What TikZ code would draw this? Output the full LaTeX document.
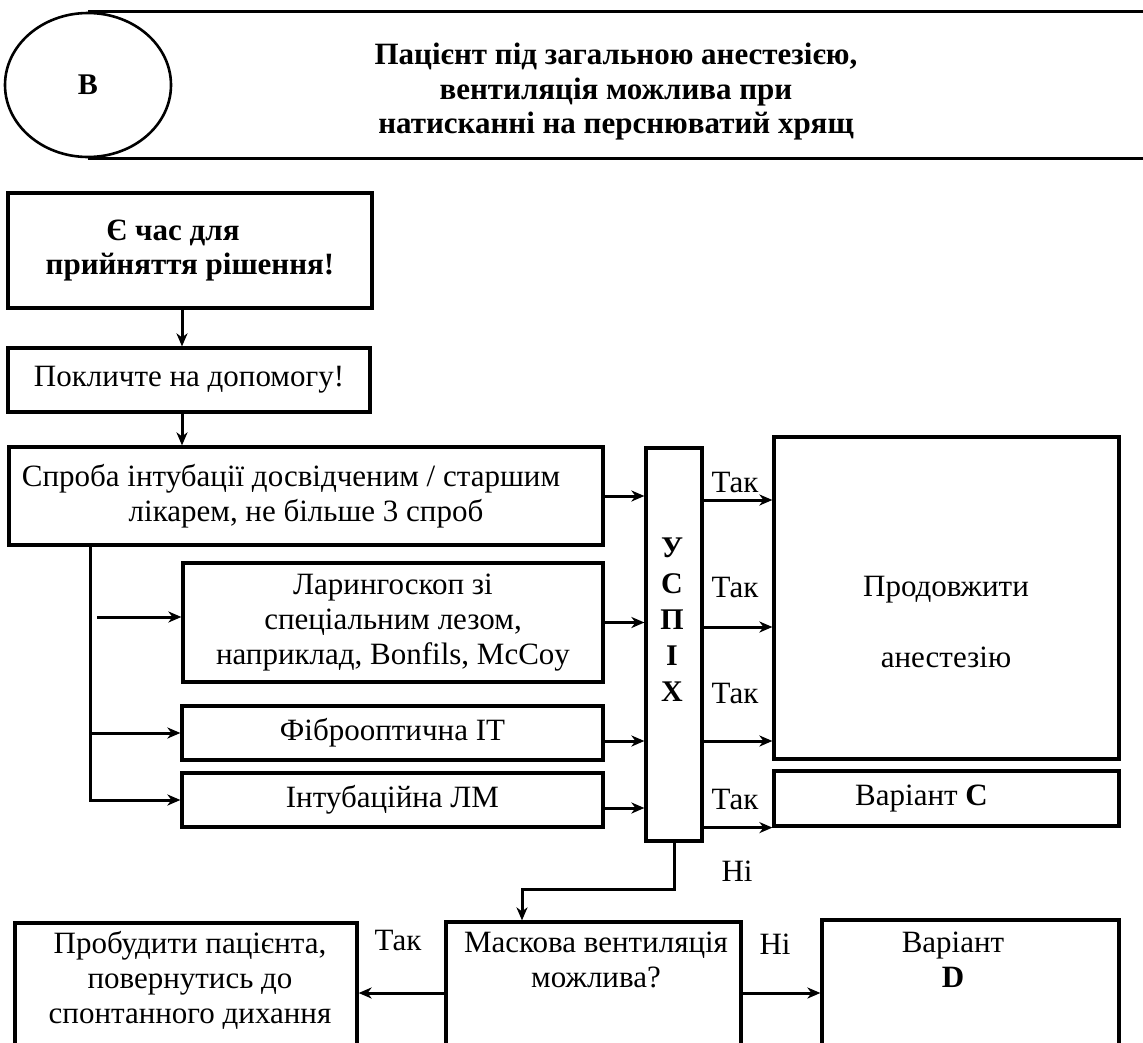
\documentclass[tikz,border=0pt]{standalone}
\usepackage{fontspec}
\setmainfont{Liberation Serif}
\usetikzlibrary{arrows.meta,shapes.geometric,calc}
\newcommand\bodyfs{\fontsize{31}{35}\selectfont}
\newcommand\headfs{\fontsize{31}{34.5}\selectfont\bfseries}
\begin{document}
\begin{tikzpicture}[x=1pt,y=-1pt,
  box/.style={draw, rectangle, line width=3.2pt, inner sep=0pt, align=center, font=\bodyfs},
  txt/.style={inner sep=0pt, align=center, font=\bodyfs},
  lbl/.style={inner sep=0pt, font=\bodyfs},
  arr/.style={line width=3pt, -{Stealth[length=13pt,width=11pt,inset=4pt]}},
  ln/.style={line width=3.2pt}]
\useasboundingbox (0,0) rectangle (1143,1042);
\clip (0,0) rectangle (1143,1042);

% header band with the plan letter
\node[ellipse, draw, line width=2.6pt, minimum width=166, minimum height=144, inner sep=0pt, font=\fontsize{30}{34}\selectfont\bfseries] (plan) at (88,85) {B};
\draw[ln] (plan.north) -- ++(1100,0);
\draw[ln] (plan.south) -- ++(1100,0);
\node[txt, font=\headfs] (headtxt) at (616,92) {Пацієнт під загальною анестезією,\\вентиляція можлива при\\натисканні на перснюватий хрящ};

% left column
\node[box, minimum width=364, minimum height=115, font=\headfs] (b1) at (190,250.5) {Є час для\hspace*{34pt}\\прийняття рішення!};
\node[box, minimum width=362, minimum height=64] (b2) at (189,380) {Покличте на допомогу!};
\node[box, minimum width=594, minimum height=98] (b3) at (306,496) {Спроба інтубації досвідченим / старшим\hspace*{30pt}\\лікарем, не більше 3 спроб};
\node[box, minimum width=420, minimum height=119] (b4) at (393,622.5) {Ларингоскоп зі\\спеціальним лезом,\\наприклад, Bonfils, McCoy};
\node[box, minimum width=421, minimum height=54] (b5) at (392.5,733) {Фіброоптична ІТ};
\node[box, minimum width=421, minimum height=54] (b6) at (392.5,800) {Інтубаційна ЛМ};

% success column
\node[box, minimum width=56, minimum height=393] (usp) at (674,644.5) {};
\node[txt, font=\fontsize{30}{36}\selectfont\bfseries] (usptxt) at (672,620) {У\\С\\П\\І\\Х};

% right column
\node[box, minimum width=345, minimum height=322] (cont) at (946.5,598) {};
\node[txt] (conttxt) at (946,622) {Продовжити\\[36pt]анестезію};
\node[box, minimum width=345, minimum height=55] (vc) at (946.5,798.5) {Варіант \textbf{C}\hspace*{50pt}};

% bottom row
\node[box, minimum width=342, minimum height=140] (wake) at (186,993) {};
\node[txt] (waketxt) at (190,980) {Пробудити пацієнта,\\повернутись до\\спонтанного дихання};
\node[box, minimum width=295, minimum height=142] (mask) at (593.5,993) {};
\node[txt] (masktxt) at (596,960) {Маскова вентиляція\\можлива?};
\node[box, minimum width=297, minimum height=146] (vd) at (970.5,993) {};
\node[txt] (vdtxt) at (953,960) {Варіант\\\textbf{D}};

% answer labels
\node[lbl] (t1) at (735,482) {Так};
\node[lbl] (t2) at (735,587) {Так};
\node[lbl] (t3) at (735,693) {Так};
\node[lbl] (t4) at (735,799) {Так};
\node[lbl] (n1) at (737,871) {Ні};
\node[lbl] (t5) at (398,940) {Так};
\node[lbl] (n2) at (775,944) {Ні};

% connectors
\coordinate (xa) at (182,0);
\coordinate (xv) at (90,0);
\coordinate (lgap) at (97,617);
\coordinate (r1) at (0,500);
\coordinate (r2) at (0,627);
\coordinate (r3) at (0,741);
\coordinate (nibend) at (522,889);

\draw[arr] (b1.south -| xa) -- (b2.north -| xa);
\draw[arr] (b2.south -| xa) -- (b3.north -| xa);
\draw[arr] (b3.south -| xv) |- (b6.west);
\draw[arr] (b5.west -| xv) -- (b5.west);
\draw[arr] (lgap) -- (lgap -| b4.west);

\draw[arr] (b3.east) -- (b3.east -| usp.west);
\draw[arr] (b4.east) -- (b4.east -| usp.west);
\draw[arr] ($(b5.east)+(0,8)$) -- ($(b5.east -| usp.west)+(0,8)$);
\draw[arr] ($(b6.east)+(0,8)$) -- ($(b6.east -| usp.west)+(0,8)$);

\draw[arr] (usp.east |- r1) -- (cont.west |- r1);
\draw[arr] (usp.east |- r2) -- (cont.west |- r2);
\draw[arr] (usp.east |- r3) -- (cont.west |- r3);
\draw[arr] (usp.east |- vc.south west) -- (vc.south west);

\draw[arr] (usp.south) |- (nibend) -- (nibend |- mask.north);
\draw[arr] (mask.west) -- (wake.east);
\draw[arr] (mask.east) -- (vd.west);
\end{tikzpicture}
\end{document}
